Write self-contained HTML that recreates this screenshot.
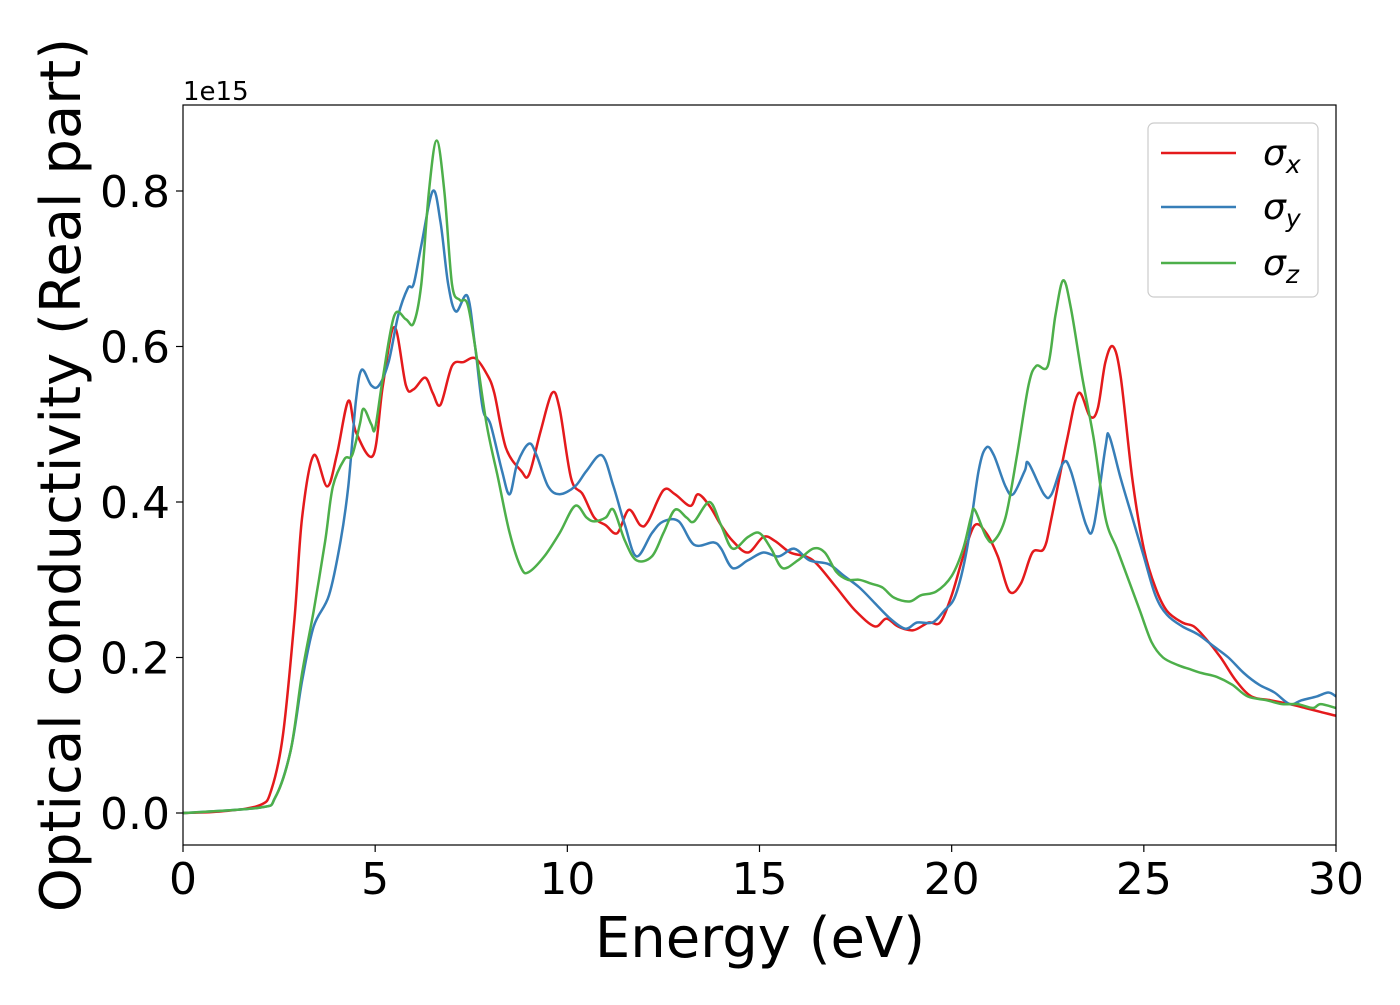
<!DOCTYPE html>
<html><head><meta charset="utf-8"><style>
body{margin:0;background:#fff}
svg{font-family:"DejaVu Sans","Liberation Sans",sans-serif}
</style></head><body>
<svg id="chart" width="1400" height="1000" viewBox="0 0 1400 1000">
<rect x="0" y="0" width="1400" height="1000" fill="#fff"/>
<g id="series"></g>
<rect x="183" y="105" width="1153" height="740" fill="none" stroke="#000" stroke-width="1.2"/>
<g id="axes"></g>
<text x="183" y="100" font-size="26">1e15</text>
<text x="760" y="957" font-size="56" text-anchor="middle">Energy (eV)</text>
<text transform="translate(80,475) rotate(-90)" font-size="56" text-anchor="middle">Optical conductivity (Real part)</text>
<g>
<rect x="1148" y="123" width="170" height="174" rx="6" fill="#fff" stroke="#ccc" stroke-width="1.2"/>
<g><line x1="1161" y1="153" x2="1236" y2="153" stroke="#e41a1c" stroke-width="2.5"/><text x="1263" y="165" font-size="36" font-style="italic">σ<tspan font-size="25" dy="8">x</tspan></text></g>
<g><line x1="1161" y1="207" x2="1236" y2="207" stroke="#377eb8" stroke-width="2.5"/><text x="1263" y="219" font-size="36" font-style="italic">σ<tspan font-size="25" dy="8">y</tspan></text></g>
<g><line x1="1161" y1="263" x2="1236" y2="263" stroke="#4daf4a" stroke-width="2.5"/><text x="1263" y="275" font-size="36" font-style="italic">σ<tspan font-size="25" dy="8">z</tspan></text></g>
</g>
</svg>
<script>
const xTicks=[0,5,10,15,20,25,30];
const yTicks=[0.0,0.2,0.4,0.6,0.8];
const yTickLabels=["0.0","0.2","0.4","0.6","0.8"];
const sxE=[0,1,2,2.3,2.6,2.9,3.1,3.4,3.75,4.0,4.3,4.5,4.95,5.2,5.5,5.8,6.0,6.3,6.5,6.7,7.0,7.3,7.6,7.9,8.1,8.4,8.8,9.0,9.3,9.6,9.8,10.1,10.4,10.7,11.0,11.3,11.6,11.9,12.1,12.5,12.8,13.2,13.4,13.7,14.0,14.3,14.7,15.1,15.4,15.8,16.2,16.5,17.0,17.5,18.0,18.3,18.6,19.0,19.4,19.7,20.0,20.3,20.6,20.9,21.2,21.5,21.8,22.1,22.4,22.6,23.0,23.3,23.6,23.8,24.0,24.2,24.4,24.7,25.0,25.3,25.6,26.0,26.3,26.6,27.0,27.4,27.8,28.3,28.8,29.2,29.6,30];
const sxV=[0,0.002,0.01,0.03,0.1,0.25,0.38,0.46,0.42,0.46,0.53,0.49,0.46,0.55,0.625,0.55,0.545,0.56,0.54,0.525,0.575,0.58,0.585,0.565,0.54,0.47,0.44,0.435,0.49,0.54,0.52,0.43,0.41,0.38,0.37,0.36,0.39,0.37,0.375,0.415,0.41,0.395,0.41,0.395,0.37,0.35,0.335,0.355,0.35,0.335,0.33,0.32,0.29,0.26,0.24,0.25,0.24,0.235,0.245,0.245,0.28,0.33,0.37,0.36,0.33,0.285,0.295,0.335,0.34,0.38,0.48,0.54,0.51,0.52,0.58,0.6,0.56,0.43,0.34,0.29,0.26,0.245,0.24,0.225,0.2,0.17,0.15,0.145,0.14,0.135,0.13,0.125];
const syE=[0,2,2.4,2.8,3.1,3.4,3.8,4.1,4.3,4.5,4.65,4.9,5.1,5.35,5.6,5.85,6.0,6.2,6.5,6.7,6.9,7.1,7.4,7.6,7.8,8.0,8.3,8.5,8.7,9.0,9.2,9.5,9.8,10.2,10.5,10.9,11.2,11.5,11.8,12.2,12.5,12.9,13.3,13.8,14.0,14.3,14.7,15.1,15.5,15.9,16.3,16.8,17.2,17.6,18.0,18.4,18.8,19.1,19.5,19.8,20.1,20.4,20.7,20.9,21.1,21.4,21.6,21.9,22.0,22.4,22.6,22.9,23.1,23.5,23.7,24.0,24.1,24.4,24.7,25.0,25.3,25.6,26.0,26.4,26.8,27.2,27.6,28.0,28.4,28.8,29.1,29.5,29.8,30];
const syV=[0,0.007,0.02,0.08,0.17,0.24,0.28,0.35,0.42,0.53,0.57,0.55,0.55,0.58,0.64,0.675,0.68,0.73,0.80,0.76,0.68,0.645,0.665,0.6,0.52,0.5,0.44,0.41,0.45,0.475,0.46,0.42,0.41,0.42,0.44,0.46,0.42,0.37,0.33,0.36,0.375,0.375,0.345,0.348,0.34,0.315,0.325,0.335,0.33,0.34,0.325,0.32,0.305,0.29,0.27,0.25,0.237,0.245,0.245,0.26,0.28,0.34,0.44,0.47,0.46,0.42,0.41,0.44,0.45,0.41,0.41,0.45,0.44,0.37,0.37,0.47,0.485,0.43,0.38,0.33,0.28,0.255,0.24,0.23,0.215,0.2,0.18,0.165,0.155,0.14,0.145,0.15,0.155,0.15];
const szE=[0,2,2.4,2.8,3.1,3.4,3.7,3.9,4.2,4.4,4.6,4.7,4.9,5.0,5.2,5.5,5.8,6.0,6.2,6.4,6.6,6.8,7.0,7.2,7.4,7.6,7.9,8.2,8.5,8.8,9.0,9.4,9.8,10.2,10.5,10.7,11.0,11.2,11.5,11.8,12.2,12.5,12.8,13.1,13.3,13.7,14.0,14.3,14.7,15.0,15.3,15.6,16.0,16.4,16.7,17.0,17.3,17.6,17.9,18.2,18.5,18.9,19.2,19.6,20.0,20.3,20.5,20.6,20.9,21.1,21.4,21.7,22.0,22.2,22.5,22.7,22.9,23.1,23.4,23.7,24.0,24.3,24.6,24.9,25.2,25.5,25.9,26.2,26.5,26.9,27.3,27.7,28.2,28.6,29.0,29.4,29.6,30];
const szV=[0,0.007,0.02,0.08,0.18,0.26,0.35,0.42,0.455,0.46,0.5,0.52,0.5,0.495,0.56,0.64,0.635,0.63,0.68,0.8,0.865,0.8,0.68,0.66,0.655,0.6,0.5,0.43,0.36,0.315,0.31,0.33,0.36,0.395,0.38,0.375,0.38,0.39,0.35,0.325,0.33,0.36,0.39,0.38,0.375,0.40,0.37,0.34,0.355,0.36,0.34,0.315,0.325,0.34,0.335,0.31,0.3,0.3,0.295,0.29,0.277,0.272,0.28,0.285,0.305,0.34,0.38,0.39,0.355,0.35,0.38,0.46,0.55,0.575,0.575,0.64,0.685,0.65,0.56,0.48,0.38,0.34,0.30,0.26,0.22,0.2,0.19,0.185,0.18,0.175,0.165,0.15,0.145,0.14,0.14,0.135,0.14,0.135];
const X0=183,X1=1336,Y0=813,PXV=777.5;
function xs(e){return X0+(X1-X0)*e/30;}
function ys(v){return Y0-v*PXV;}
const NS="http://www.w3.org/2000/svg";
function path(E,V){
  const p=E.map((e,i)=>[xs(e),ys(V[i])]);
  let d="M"+p[0][0]+","+p[0][1];
  for(let i=0;i<p.length-1;i++){
    const a=p[Math.max(0,i-1)],b=p[i],c=p[i+1],n=p[Math.min(p.length-1,i+2)];
    const c1=[b[0]+(c[0]-a[0])/6,b[1]+(c[1]-a[1])/6],c2=[c[0]-(n[0]-b[0])/6,c[1]-(n[1]-b[1])/6];
    d+=" C"+c1[0].toFixed(1)+","+c1[1].toFixed(1)+" "+c2[0].toFixed(1)+","+c2[1].toFixed(1)+" "+c[0].toFixed(1)+","+c[1].toFixed(1);
  }
  return d;
}
const g=document.getElementById("series");
[[sxE,sxV,"#e41a1c","sigma-x-line"],[syE,syV,"#377eb8","sigma-y-line"],[szE,szV,"#4daf4a","sigma-z-line"]].forEach(s=>{
  const el=document.createElementNS(NS,"path");
  el.setAttribute("d",path(s[0],s[1]));
  el.setAttribute("fill","none");el.setAttribute("stroke",s[2]);el.setAttribute("stroke-width","2.5");
  
  
  g.appendChild(el);
});
const ax=document.getElementById("axes");
xTicks.forEach(t=>{
  const l=document.createElementNS(NS,"line");
  l.setAttribute("x1",xs(t));l.setAttribute("x2",xs(t));l.setAttribute("y1",845);l.setAttribute("y2",852);l.setAttribute("stroke","#000");l.setAttribute("stroke-width","1.2");
  
  
  ax.appendChild(l);
  const tx=document.createElementNS(NS,"text");
  tx.setAttribute("x",xs(t));tx.setAttribute("y",894);tx.setAttribute("font-size","44");tx.setAttribute("text-anchor","middle");
  tx.textContent=String(t);
  
  
  ax.appendChild(tx);
});
yTicks.forEach((t,i)=>{
  const l=document.createElementNS(NS,"line");
  l.setAttribute("x1",176);l.setAttribute("x2",183);l.setAttribute("y1",ys(t));l.setAttribute("y2",ys(t));l.setAttribute("stroke","#000");l.setAttribute("stroke-width","1.2");
  
  
  ax.appendChild(l);
  const tx=document.createElementNS(NS,"text");
  tx.setAttribute("x",170);tx.setAttribute("y",ys(t)+16);tx.setAttribute("font-size","44");tx.setAttribute("text-anchor","end");
  tx.textContent=yTickLabels[i];
  
  
  ax.appendChild(tx);
});
</script>
</body></html>
